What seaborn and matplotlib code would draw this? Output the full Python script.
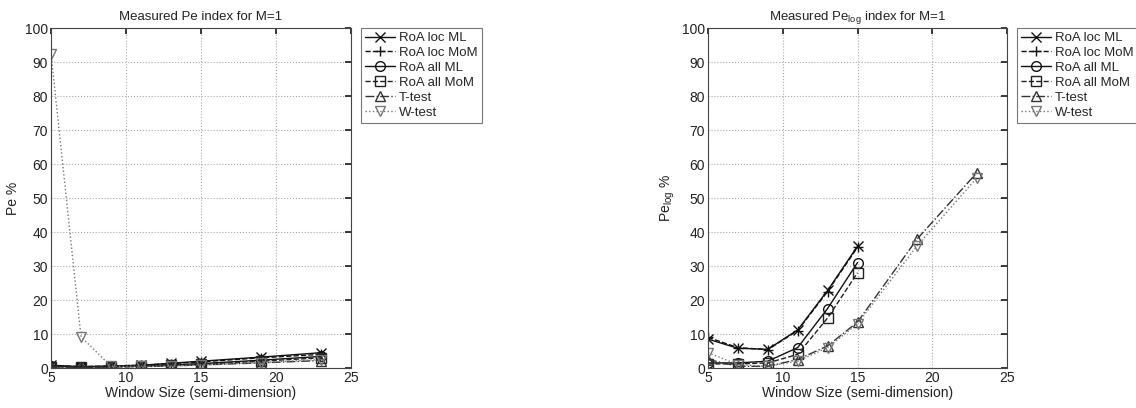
import matplotlib
matplotlib.use("Agg")
import matplotlib.pyplot as plt
import seaborn as sns
import pandas as pd

sns.set_theme(style="white")
plt.rcParams["font.family"] = ["Liberation Sans", "DejaVu Sans"]
plt.rcParams["mathtext.fontset"] = "custom"
plt.rcParams["mathtext.rm"] = "Liberation Sans"
plt.rcParams["mathtext.it"] = "Liberation Sans"

# Window sizes (semi-dimension)
window = [5, 7, 9, 11, 13, 15, 19, 23]
window_roa = [5, 7, 9, 11, 13, 15]

# Pe % (left panel)
pe_loc_ml = [0.8, 0.4, 0.6, 0.8, 1.4, 2.0, 3.2, 4.5]
pe_loc_mom = [0.8, 0.4, 0.6, 0.8, 1.3, 1.8, 3.0, 4.0]
pe_all_ml = [0.5, 0.3, 0.4, 0.6, 0.9, 1.3, 2.3, 3.4]
pe_all_mom = [0.4, 0.2, 0.3, 0.5, 0.8, 1.1, 2.0, 3.0]
pe_ttest = [0.3, 0.2, 0.3, 0.4, 0.6, 0.9, 1.5, 2.2]
pe_wtest = [92.5, 9.2, 0.5, 0.5, 0.6, 0.9, 1.6, 2.5]

# Pe_log % (right panel)
pelog_loc_ml = [8.5, 5.8, 5.5, 11.2, 22.8, 35.8]
pelog_loc_mom = [9.0, 6.0, 5.4, 11.0, 22.5, 35.5]
pelog_all_ml = [1.5, 1.5, 2.0, 6.0, 17.5, 31.0]
pelog_all_mom = [1.2, 1.2, 1.5, 4.0, 14.7, 28.0]
pelog_ttest = [2.5, 0.5, 0.5, 2.5, 6.5, 13.5, 38.0, 57.5]
pelog_wtest = [4.5, 1.0, 0.5, 2.0, 6.0, 13.0, 36.0, 56.0]

labels = ["RoA loc ML", "RoA loc MoM", "RoA all ML", "RoA all MoM", "T-test", "W-test"]
styles = [
    dict(marker="x", linestyle="-", color="#111111"),
    dict(marker="+", linestyle="--", color="#111111"),
    dict(marker="o", linestyle="-", color="#111111"),
    dict(marker="s", linestyle="--", color="#222222"),
    dict(marker="^", linestyle="-.", color="#333333"),
    dict(marker="v", linestyle=":", color="#777777"),
]

left_series = [(window, v) for v in [pe_loc_ml, pe_loc_mom, pe_all_ml, pe_all_mom, pe_ttest, pe_wtest]]
right_series = [(window_roa, pelog_loc_ml), (window_roa, pelog_loc_mom),
                (window_roa, pelog_all_ml), (window_roa, pelog_all_mom),
                (window, pelog_ttest), (window, pelog_wtest)]

fig = plt.figure(figsize=(11.36, 4.08), dpi=100)
ax1 = fig.add_axes([51 / 1136, 1 - 368 / 408, 300 / 1136, 340 / 408])
ax2 = fig.add_axes([708 / 1136, 1 - 368 / 408, 299 / 1136, 340 / 408])


def draw(ax, series, title, ylabel):
    for (xs, ys), lab, st in zip(series, labels, styles):
        df = pd.DataFrame({"x": xs, "y": ys})
        sns.lineplot(data=df, x="x", y="y", ax=ax, label=lab,
                     marker=st["marker"], linestyle=st["linestyle"], color=st["color"],
                     linewidth=1.0, markersize=7, markerfacecolor="none",
                     markeredgecolor=st["color"], markeredgewidth=1.0)
    ax.set_xlim(5, 25)
    ax.set_ylim(0, 100)
    ax.set_xticks([5, 10, 15, 20, 25])
    ax.set_yticks(range(0, 101, 10))
    ax.grid(True, linestyle=":", color="#aaaaaa", linewidth=0.8)
    ax.tick_params(direction="in", length=4, labelsize=10, colors="#222222",
                   top=True, right=True, pad=2)
    for s in ax.spines.values():
        s.set_color("#444444")
        s.set_linewidth(0.8)
    ax.set_title(title, fontsize=9.5, pad=6, color="#222222")
    ax.set_xlabel("Window Size (semi-dimension)", fontsize=10, labelpad=1, color="#222222")
    ax.set_ylabel(ylabel, fontsize=10, labelpad=4, color="#222222")
    leg = ax.legend(loc="upper left", bbox_to_anchor=(1.033, 1.0), fontsize=9.5,
                    frameon=True, fancybox=False, edgecolor="#555555",
                    handlelength=2.3, handletextpad=0.3, borderpad=0.3,
                    labelspacing=0.2, borderaxespad=0.0)
    leg.get_frame().set_linewidth(0.8)


draw(ax1, left_series, "Measured Pe index for M=1", "Pe %")
draw(ax2, right_series, r"Measured Pe$_{\rm log}$ index for M=1", r"Pe$_{\rm log}$ %")

fig.savefig("out.png", dpi=100, facecolor="white")
